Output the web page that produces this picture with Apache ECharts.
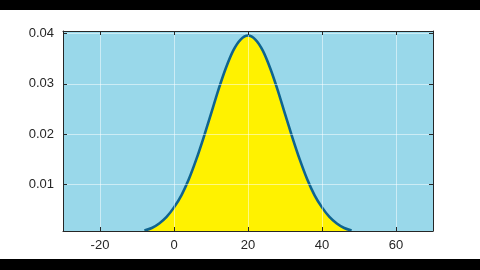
<!DOCTYPE html>
<html>
<head>
<meta charset="utf-8">
<script src="https://cdn.jsdelivr.net/npm/echarts@6/dist/echarts.min.js"></script>
<style>
html,body{margin:0;padding:0;background:#fff;}
#c{width:480px;height:270px;}
</style>
</head>
<body>
<div id="c"></div>
<script>
var xValues = [-8,-6,-4,-2,0,2,4,6,8,10,12,14,16,18,20,22,24,26,28,30,32,34,36,38,40,42,44,46,48];
var yValues = [0.0008,0.0013,0.0022,0.0035,0.0054,0.0078,0.0110,0.0149,0.0193,0.0240,0.0288,0.0331,0.0366,0.0388,0.0396,0.0388,0.0366,0.0331,0.0288,0.0240,0.0193,0.0149,0.0110,0.0078,0.0054,0.0035,0.0022,0.0013,0.0008];
var xTicks = [-20,0,20,40,60];
var yTicks = [0.01,0.02,0.03,0.04];

var data = xValues.map(function(x,i){return [x,yValues[i]];});
var font = '"Liberation Sans", Arial, sans-serif';
var axisCol = '#262626';
var gridCol = 'rgba(255,255,255,0.5)';

var chart = echarts.init(document.getElementById('c'), null, {renderer:'canvas'});
chart.setOption({
  animation:false,
  backgroundColor:'#ffffff',
  grid:{left:63,right:47,top:31,bottom:39,show:true,backgroundColor:'#99d8ea',borderWidth:0},
  xAxis:[{
    type:'value',min:-30,max:70,position:'bottom',z:5,
    axisLine:{show:true,onZero:false,lineStyle:{color:axisCol,width:1}},
    axisTick:{show:true,inside:true,length:4,customValues:xTicks,lineStyle:{color:axisCol}},
    axisLabel:{show:true,customValues:xTicks,margin:8,color:axisCol,fontSize:13,fontFamily:font},
    splitLine:{show:true,lineStyle:{color:gridCol,width:1}}
  },{
    type:'value',min:-30,max:70,position:'top',z:5,
    axisLine:{show:true,onZero:false,lineStyle:{color:axisCol,width:1}},
    axisTick:{show:true,inside:true,length:4,customValues:xTicks,lineStyle:{color:axisCol}},
    axisLabel:{show:false},
    splitLine:{show:false}
  }],
  yAxis:[{
    type:'value',min:0.0007,max:0.0405,position:'left',z:5,
    axisLine:{show:true,onZero:false,lineStyle:{color:axisCol,width:1}},
    axisTick:{show:true,inside:true,length:4,customValues:yTicks,lineStyle:{color:axisCol}},
    axisLabel:{show:true,customValues:yTicks,margin:9,color:axisCol,fontSize:13,fontFamily:font,
      formatter:function(v){return String(Math.round(v*100)/100);}},
    splitLine:{show:true,lineStyle:{color:gridCol,width:1}}
  },{
    type:'value',min:0.0007,max:0.0405,position:'right',z:5,
    axisLine:{show:true,onZero:false,lineStyle:{color:axisCol,width:1}},
    axisTick:{show:true,inside:true,length:4,customValues:yTicks,lineStyle:{color:axisCol}},
    axisLabel:{show:false},
    splitLine:{show:false}
  }],
  series:[{
    type:'line',
    data:data,
    xAxisIndex:0,yAxisIndex:0,
    showSymbol:false,
    smooth:0.3,
    lineStyle:{color:'#0f6490',width:2.6},
    areaStyle:{color:'#fff200',opacity:1,origin:'start'},
    z:3
  }],
  graphic:[
    {type:'rect',shape:{x:0,y:0,width:480,height:10},style:{fill:'#000'},z:100},
    {type:'rect',shape:{x:0,y:259,width:480,height:11},style:{fill:'#000'},z:100}
  ]
});
</script>
</body>
</html>
